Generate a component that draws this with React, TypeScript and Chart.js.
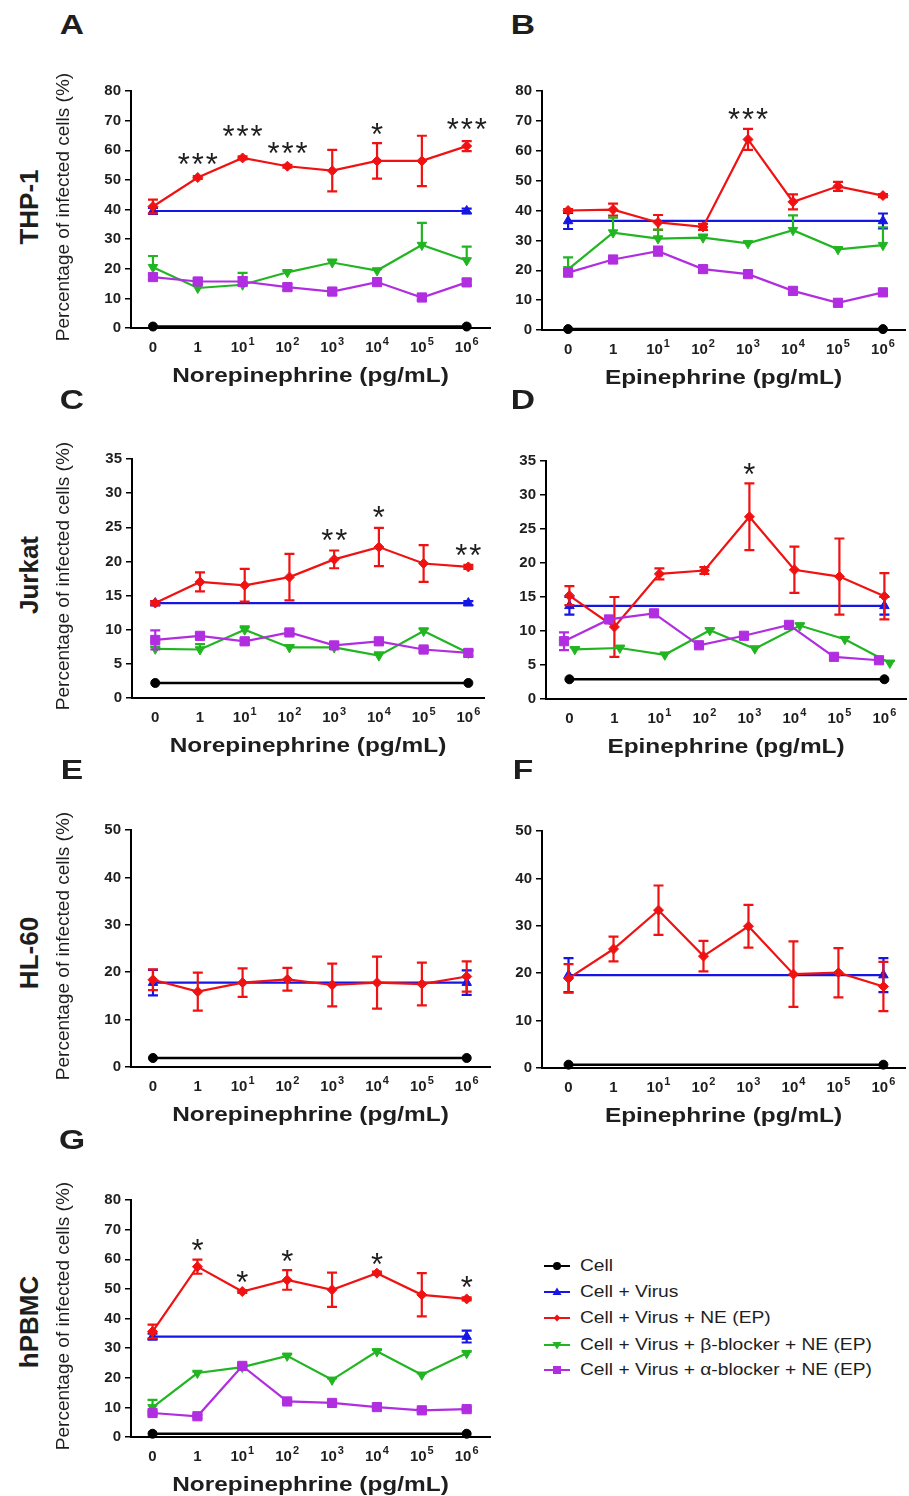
import React, { useEffect, useRef } from 'react';
import { Chart, registerables } from 'chart.js';

Chart.register(...registerables);

const FONT = '"Liberation Sans", Arial, Helvetica, sans-serif';
const TEXT = '#1e1e1e';
const _ = null;

// ---------- shared axis data ----------
const doseIndex = [0, 1, 2, 3, 4, 5, 6, 7];
const tickBase = ['0', '1', '10', '10', '10', '10', '10', '10'];
const tickExp = ['', '', '1', '2', '3', '4', '5', '6'];
const seriesNames = [
  'Cell',
  'Cell + Virus',
  'Cell + Virus + NE (EP)',
  'Cell + Virus + β-blocker + NE (EP)',
  'Cell + Virus + α-blocker + NE (EP)',
];

// ---------- Panel A: THP-1, norepinephrine ----------
const aCell = [0.5, _, _, _, _, _, _, 0.5];
const aVirus = [39.5, _, _, _, _, _, _, 39.5];
const aVirusErr = [1.0, 0, 0, 0, 0, 0, 0, 0.8];
const aNE = [41.0, 50.8, 57.4, 54.6, 53.1, 56.4, 56.4, 61.4];
const aNEErr = [2.3, 0.5, 0.5, 0.5, 7.0, 6.0, 8.5, 1.7];
const aBeta = [20.5, 13.5, 14.6, 18.8, 22.1, 19.4, 28.0, 22.8];
const aBetaErr = [3.8, 2.0, 4.0, 0.5, 1.0, 0.5, 7.5, 4.7];
const aAlpha = [17.2, 15.7, 15.7, 13.8, 12.3, 15.5, 10.3, 15.4];
const aAlphaErr = [1.0, 1.0, 1.5, 1.0, 1.0, 1.0, 1.0, 1.0];
const aStarAt = [1, 2, 3, 5, 7];
const aStarY = [57.6, 67.0, 61.4, 67.9, 69.6];
const aStarText = ['***', '***', '***', '*', '***'];

// ---------- Panel B: THP-1, epinephrine ----------
const bCell = [0.3, _, _, _, _, _, _, 0.3];
const bVirus = [36.5, _, _, _, _, _, _, 36.5];
const bVirusErr = [2.7, 0, 0, 0, 0, 0, 0, 2.5];
const bNE = [40.0, 40.3, 36.0, 34.5, 63.8, 42.9, 48.1, 45.0];
const bNEErr = [0.5, 2.0, 2.5, 1.0, 3.5, 2.5, 1.5, 0.5];
const bBeta = [20.3, 32.6, 30.6, 30.9, 29.0, 33.4, 27.0, 28.4];
const bBetaErr = [4.0, 5.0, 3.0, 1.0, 0.5, 5.0, 0.5, 6.0];
const bAlpha = [19.2, 23.6, 26.4, 20.4, 18.7, 13.1, 9.1, 12.6];
const bAlphaErr = [1.0, 1.0, 1.5, 1.0, 1.0, 1.0, 1.0, 1.0];
const bStarAt = [4];
const bStarY = [73.0];
const bStarText = ['***'];

// ---------- Panel C: Jurkat, norepinephrine ----------
const cCell = [2.2, _, _, _, _, _, _, 2.2];
const cVirus = [13.9, _, _, _, _, _, _, 13.9];
const cVirusErr = [0.3, 0, 0, 0, 0, 0, 0, 0.3];
const cNE = [13.9, 17.0, 16.5, 17.7, 20.3, 22.1, 19.7, 19.2];
const cNEErr = [0.3, 1.4, 2.4, 3.4, 1.3, 2.8, 2.7, 0.3];
const cBeta = [7.2, 7.1, 10.0, 7.4, 7.4, 6.2, 9.8, 6.6];
const cBetaErr = [0.3, 0.8, 0.5, 0.3, 0.3, 0.5, 0.4, 0.3];
const cAlpha = [8.5, 9.1, 8.3, 9.6, 7.7, 8.3, 7.1, 6.6];
const cAlphaErr = [1.4, 0.4, 0.4, 0.4, 0.4, 0.4, 0.3, 0.5];
const cStarAt = [4, 5, 7];
const cStarY = [24.1, 27.6, 22.0];
const cStarText = ['**', '*', '**'];

// ---------- Panel D: Jurkat, epinephrine ----------
const dCell = [2.9, _, _, _, _, _, _, 2.9];
const dVirus = [13.7, _, _, _, _, _, _, 13.7];
const dVirusErr = [1.3, 0, 0, 0, 0, 0, 0, 1.3];
const dNE = [15.2, 10.6, 18.4, 18.9, 26.8, 19.0, 18.0, 15.1];
const dNEErr = [1.4, 4.4, 0.8, 0.5, 4.9, 3.4, 5.6, 3.4];
const dBeta = [7.3, 7.5, 6.5, 10.1, 7.4, 10.8, 8.8, 5.3];
const dBetaErr = [0.3, 0.3, 0.3, 0.3, 0.3, 0.3, 0.3, 0.3];
const dAlpha = [8.5, 11.7, 12.6, 7.9, 9.3, 10.9, 6.2, 5.7];
const dAlphaErr = [1.3, 0.3, 0.3, 0.3, 0.3, 0.3, 0.3, 0.3];
const dStarAt = [4];
const dStarY = [34.1];
const dStarText = ['*'];

// ---------- Panel E: HL-60, norepinephrine ----------
const eCell = [1.9, _, _, _, _, _, _, 1.9];
const eVirus = [17.8, _, _, _, _, _, _, 17.8];
const eVirusErr = [2.7, 0, 0, 0, 0, 0, 0, 2.6];
const eNE = [18.4, 15.9, 17.8, 18.5, 17.3, 17.8, 17.5, 19.1];
const eNEErr = [2.2, 4.0, 3.0, 2.4, 4.5, 5.5, 4.5, 3.2];

// ---------- Panel F: HL-60, epinephrine ----------
const fCell = [0.7, _, _, _, _, _, _, 0.7];
const fVirus = [19.6, _, _, _, _, _, _, 19.6];
const fVirusErr = [3.6, 0, 0, 0, 0, 0, 0, 3.6];
const fNE = [18.9, 25.1, 33.3, 23.6, 29.9, 19.8, 20.1, 17.2];
const fNEErr = [3.0, 2.6, 5.2, 3.2, 4.5, 6.9, 5.2, 5.2];

// ---------- Panel G: hPBMC, norepinephrine ----------
const gCell = [1.1, _, _, _, _, _, _, 1.1];
const gVirus = [33.9, _, _, _, _, _, _, 33.9];
const gVirusErr = [1.0, 0, 0, 0, 0, 0, 0, 2.0];
const gNE = [35.6, 57.5, 49.1, 53.0, 49.7, 55.3, 48.0, 46.6];
const gNEErr = [2.3, 2.4, 0.5, 3.3, 5.8, 0.5, 7.3, 0.5];
const gBeta = [10.0, 21.6, 23.6, 27.4, 19.3, 28.9, 21.0, 28.3];
const gBetaErr = [2.5, 0.5, 0.5, 0.5, 0.5, 0.5, 0.5, 0.5];
const gAlpha = [8.1, 7.0, 24.0, 12.0, 11.5, 10.1, 9.0, 9.4];
const gAlphaErr = [0.5, 0.5, 0.5, 0.5, 0.5, 0.5, 0.5, 0.5];
const gStarAt = [1, 2, 3, 5, 7];
const gStarY = [65.4, 54.7, 61.8, 60.9, 53.0];
const gStarText = ['*', '*', '*', '*', '*'];

// ---------- styles ----------
const STYLES = [
  { color: '#000000', pointStyle: 'circle', radius: 4.5, rotation: 0, errUp: false, width: 2.6 },
  { color: '#1515e6', pointStyle: 'triangle', radius: 5.5, rotation: 0, errUp: false, width: 2.2 },
  { color: '#f01212', pointStyle: 'rectRot', radius: 5, rotation: 0, errUp: false, width: 2.2 },
  { color: '#22b522', pointStyle: 'triangle', radius: 5.5, rotation: 180, errUp: true, width: 2.2 },
  { color: '#b02ee0', pointStyle: 'rect', radius: 6.5, rotation: 0, errUp: false, width: 2.2 },
];

type Series = { vals: (number | null)[]; errs?: number[]; kind: number; dodge?: number };

type PanelCfg = {
  area: { l: number; t: number; r: number; b: number };
  xMin: number;
  xMax: number;
  yMax: number;
  yStep: number;
  title: string;
  series: Series[];
  starAt?: number[];
  starY?: number[];
  starText?: string[];
};

const NE_TITLE = 'Norepinephrine (pg/mL)';
const EP_TITLE = 'Epinephrine (pg/mL)';

const panels: PanelCfg[] = [
  {
    area: { l: 131, t: 91, r: 490, b: 328 }, xMin: -0.49, xMax: 7.52, yMax: 80, yStep: 10, title: NE_TITLE,
    series: [
      { vals: aCell, kind: 0 }, { vals: aVirus, errs: aVirusErr, kind: 1 }, { vals: aNE, errs: aNEErr, kind: 2 },
      { vals: aBeta, errs: aBetaErr, kind: 3 }, { vals: aAlpha, errs: aAlphaErr, kind: 4 },
    ],
    starAt: aStarAt, starY: aStarY, starText: aStarText,
  },
  {
    area: { l: 542, t: 91, r: 905, b: 330 }, xMin: -0.58, xMax: 7.49, yMax: 80, yStep: 10, title: EP_TITLE,
    series: [
      { vals: bCell, kind: 0 }, { vals: bVirus, errs: bVirusErr, kind: 1 }, { vals: bNE, errs: bNEErr, kind: 2 },
      { vals: bBeta, errs: bBetaErr, kind: 3 }, { vals: bAlpha, errs: bAlphaErr, kind: 4 },
    ],
    starAt: bStarAt, starY: bStarY, starText: bStarText,
  },
  {
    area: { l: 132, t: 459, r: 484, b: 698 }, xMin: -0.52, xMax: 7.35, yMax: 35, yStep: 5, title: NE_TITLE,
    series: [
      { vals: cCell, kind: 0 }, { vals: cVirus, errs: cVirusErr, kind: 1 }, { vals: cNE, errs: cNEErr, kind: 2 },
      { vals: cBeta, errs: cBetaErr, kind: 3 }, { vals: cAlpha, errs: cAlphaErr, kind: 4 },
    ],
    starAt: cStarAt, starY: cStarY, starText: cStarText,
  },
  {
    area: { l: 546, t: 461, r: 906, b: 699 }, xMin: -0.52, xMax: 7.48, yMax: 35, yStep: 5, title: EP_TITLE,
    series: [
      { vals: dCell, kind: 0 }, { vals: dVirus, errs: dVirusErr, kind: 1 }, { vals: dNE, errs: dNEErr, kind: 2 },
      { vals: dBeta, errs: dBetaErr, kind: 3, dodge: 0.12 }, { vals: dAlpha, errs: dAlphaErr, kind: 4, dodge: -0.12 },
    ],
    starAt: dStarAt, starY: dStarY, starText: dStarText,
  },
  {
    area: { l: 131, t: 830, r: 490, b: 1067 }, xMin: -0.49, xMax: 7.52, yMax: 50, yStep: 10, title: NE_TITLE,
    series: [{ vals: eCell, kind: 0 }, { vals: eVirus, errs: eVirusErr, kind: 1 }, { vals: eNE, errs: eNEErr, kind: 2 }],
  },
  {
    area: { l: 542, t: 831, r: 905, b: 1068 }, xMin: -0.59, xMax: 7.48, yMax: 50, yStep: 10, title: EP_TITLE,
    series: [{ vals: fCell, kind: 0 }, { vals: fVirus, errs: fVirusErr, kind: 1 }, { vals: fNE, errs: fNEErr, kind: 2 }],
  },
  {
    area: { l: 131, t: 1200, r: 490, b: 1437 }, xMin: -0.48, xMax: 7.52, yMax: 80, yStep: 10, title: NE_TITLE,
    series: [
      { vals: gCell, kind: 0 }, { vals: gVirus, errs: gVirusErr, kind: 1 }, { vals: gNE, errs: gNEErr, kind: 2 },
      { vals: gBeta, errs: gBetaErr, kind: 3 }, { vals: gAlpha, errs: gAlphaErr, kind: 4 },
    ],
    starAt: gStarAt, starY: gStarY, starText: gStarText,
  },
];

const PAD_L = 60;
const PAD_T = 30;
const PAD_R = 10;
const PAD_B = 64;

const extrasPlugin = {
  id: 'prismExtras',
  beforeDatasetDraw(chart: any, args: any) {
    const ds = chart.data.datasets[args.index];
    const ys = chart.scales.y;
    const ctx = chart.ctx;
    ctx.save();
    ctx.strokeStyle = ds.borderColor;
    ctx.lineWidth = 2.2;
    args.meta.data.forEach((el: any, i: number) => {
      const p = ds.data[i];
      if (!p || !p.e) return;
      const top = ys.getPixelForValue(p.y + p.e);
      const bot = ds.errUp ? ys.getPixelForValue(p.y) : ys.getPixelForValue(p.y - p.e);
      ctx.beginPath();
      ctx.moveTo(el.x, top);
      ctx.lineTo(el.x, bot);
      ctx.moveTo(el.x - 5, top);
      ctx.lineTo(el.x + 5, top);
      if (!ds.errUp) {
        ctx.moveTo(el.x - 5, bot);
        ctx.lineTo(el.x + 5, bot);
      }
      ctx.stroke();
    });
    ctx.restore();
  },
  afterDraw(chart: any) {
    const cfg: PanelCfg = chart.options.plugins.prismExtras.cfg;
    const xs = chart.scales.x;
    const ys = chart.scales.y;
    const ctx = chart.ctx;
    ctx.save();
    ctx.fillStyle = TEXT;
    // x tick labels with superscripts
    const ly = xs.top + 20;
    doseIndex.forEach((d, i) => {
      const px = xs.getPixelForValue(d);
      ctx.font = `bold 15px ${FONT}`;
      const bw = ctx.measureText(tickBase[i]).width;
      ctx.font = `bold 11px ${FONT}`;
      const ew = tickExp[i] ? ctx.measureText(tickExp[i]).width + 1 : 0;
      const start = px - (bw + ew) / 2;
      ctx.textAlign = 'left';
      ctx.textBaseline = 'middle';
      ctx.font = `bold 15px ${FONT}`;
      ctx.fillText(tickBase[i], start, ly);
      if (tickExp[i]) {
        ctx.font = `bold 11px ${FONT}`;
        ctx.fillText(tickExp[i], start + bw + 1, ly - 6);
      }
    });
    // axis title
    ctx.save();
    ctx.translate((xs.left + xs.right) / 2, xs.top + 48);
    ctx.scale(1.22, 1);
    ctx.font = `bold 20px ${FONT}`;
    ctx.textAlign = 'center';
    ctx.textBaseline = 'middle';
    ctx.fillText(cfg.title, 0, 0);
    ctx.restore();
    // significance stars
    if (cfg.starAt) {
      const fs = 31;
      ctx.font = `${fs}px ${FONT}`;
      ctx.textAlign = 'center';
      ctx.textBaseline = 'alphabetic';
      cfg.starAt.forEach((d, k) => {
        const px = xs.getPixelForValue(d);
        const py = ys.getPixelForValue(cfg.starY![k]);
        const txt = cfg.starText![k];
        const n = txt.length;
        for (let j = 0; j < n; j++) {
          ctx.fillText('*', px + (j - (n - 1) / 2) * 14, py + 0.58 * fs);
        }
      });
    }
    ctx.restore();
  },
};

function Panel({ cfg }: { cfg: PanelCfg }) {
  const ref = useRef<HTMLCanvasElement | null>(null);
  const w = cfg.area.r - cfg.area.l + PAD_L + PAD_R;
  const h = cfg.area.b - cfg.area.t + PAD_T + PAD_B;
  useEffect(() => {
    if (!ref.current) return;
    const datasets = cfg.series.map((s) => {
      const st = STYLES[s.kind];
      const data = doseIndex
        .map((d, i) => ({ x: d + (s.dodge || 0), y: s.vals[i], e: s.errs ? s.errs[i] : 0 }))
        .filter((p) => p.y !== null && p.y !== undefined);
      return {
        label: seriesNames[s.kind],
        data,
        borderColor: st.color,
        backgroundColor: st.color,
        borderWidth: st.width,
        pointStyle: st.pointStyle,
        pointRadius: st.radius,
        pointRotation: st.rotation,
        pointBorderWidth: 1,
        pointBorderColor: st.color,
        pointBackgroundColor: st.color,
        tension: 0,
        clip: false,
        order: 10 - s.kind,
        errUp: st.errUp,
      } as any;
    });
    const chart = new Chart(ref.current, {
      type: 'line',
      data: { datasets },
      plugins: [extrasPlugin as any],
      options: {
        responsive: false,
        animation: false,
        devicePixelRatio: 1,
        layout: { padding: { top: PAD_T, right: PAD_R, left: 0, bottom: 0 } },
        plugins: {
          legend: { display: false },
          tooltip: { enabled: false },
          prismExtras: { cfg },
        } as any,
        scales: {
          x: {
            type: 'linear',
            min: cfg.xMin,
            max: cfg.xMax,
            ticks: { display: false },
            grid: { display: false },
            border: { display: true, color: '#000', width: 2 },
            afterFit: (s: any) => {
              s.height = PAD_B;
            },
          },
          y: {
            type: 'linear',
            min: 0,
            max: cfg.yMax,
            ticks: {
              stepSize: cfg.yStep,
              color: TEXT,
              padding: 4,
              font: { family: FONT, size: 15, weight: 'bold' },
            },
            grid: { drawOnChartArea: false, color: '#000', lineWidth: 1.5, tickLength: 6 },
            border: { display: true, color: '#000', width: 2 },
            afterFit: (s: any) => {
              s.width = PAD_L;
            },
          },
        },
      } as any,
    });
    return () => chart.destroy();
  }, [cfg]);
  return (
    <canvas
      ref={ref}
      width={w}
      height={h}
      style={{ position: 'absolute', left: cfg.area.l - PAD_L, top: cfg.area.t - PAD_T, width: w, height: h }}
    />
  );
}

function Label({ x, y, text, size, bold, rotate, sx }: { x: number; y: number; text: string; size: number; bold?: boolean; rotate?: boolean; sx?: number }) {
  const tf = `translate(-50%, -50%)${rotate ? ' rotate(-90deg)' : ''}${sx ? ` scaleX(${sx})` : ''}`;
  return (
    <div
      style={{
        position: 'absolute',
        left: x,
        top: y,
        transform: tf,
        whiteSpace: 'nowrap',
        fontFamily: FONT,
        fontSize: size,
        fontWeight: bold ? 'bold' : 'normal',
        color: TEXT,
        lineHeight: 1,
      }}
    >
      {text}
    </div>
  );
}

const panelLetters = ['A', 'B', 'C', 'D', 'E', 'F', 'G'];
const letterPos = [
  [72, 25], [523, 25], [72, 400], [523, 400], [72, 770], [523, 770], [72, 1140],
];
const rowLabels = ['THP-1', 'Jurkat', 'HL-60', 'hPBMC'];
const rowLabelY = [207, 575, 953, 1322];
const yTitleY = [207, 576, 946, 1316];
const Y_TITLE = 'Percentage of infected cells (%)';

function Marker({ kind }: { kind: number }) {
  const c = STYLES[kind].color;
  let m: any = null;
  if (kind === 0) m = <circle cx={13} cy={7} r={4} fill={c} />;
  if (kind === 1) m = <polygon points="13,2.5 17.5,10 8.5,10" fill={c} />;
  if (kind === 2) m = <polygon points="13,3.5 16.5,7 13,10.5 9.5,7" fill={c} />;
  if (kind === 3) m = <polygon points="13,11.5 17.5,4 8.5,4" fill={c} />;
  if (kind === 4) m = <rect x={9} y={3} width={8} height={8} fill={c} />;
  return (
    <svg width={26} height={14} style={{ display: 'block' }}>
      <line x1={0} y1={7} x2={26} y2={7} stroke={c} strokeWidth={2} />
      {m}
    </svg>
  );
}

const legendY = [1266, 1292, 1318, 1345, 1370];

export default function App() {
  return (
    <div
      style={{
        position: 'absolute',
        left: 0,
        top: 0,
        width: 909,
        height: 1496,
        overflow: 'hidden',
        background: '#fff',
      }}
    >
      {panels.map((p, i) => (
        <Panel key={i} cfg={p} />
      ))}
      {panelLetters.map((l, i) => (
        <Label key={l} x={letterPos[i][0]} y={letterPos[i][1]} text={l} size={28} bold sx={1.2} />
      ))}
      {rowLabels.map((l, i) => (
        <Label key={l} x={29} y={rowLabelY[i]} text={l} size={26} bold rotate />
      ))}
      {yTitleY.map((y, i) => (
        <Label key={i} x={62} y={y} text={Y_TITLE} size={19} rotate />
      ))}
      {seriesNames.map((n, i) => (
        <div
          key={n}
          style={{ position: 'absolute', left: 544, top: legendY[i] - 9, height: 18, display: 'flex', alignItems: 'center' }}
        >
          <Marker kind={i} />
          <span
            style={{
              marginLeft: 10,
              fontFamily: FONT,
              fontSize: 16,
              color: TEXT,
              whiteSpace: 'nowrap',
              display: 'inline-block',
              transform: 'scaleX(1.2)',
              transformOrigin: 'left center',
            }}
          >
            {n}
          </span>
        </div>
      ))}
    </div>
  );
}
